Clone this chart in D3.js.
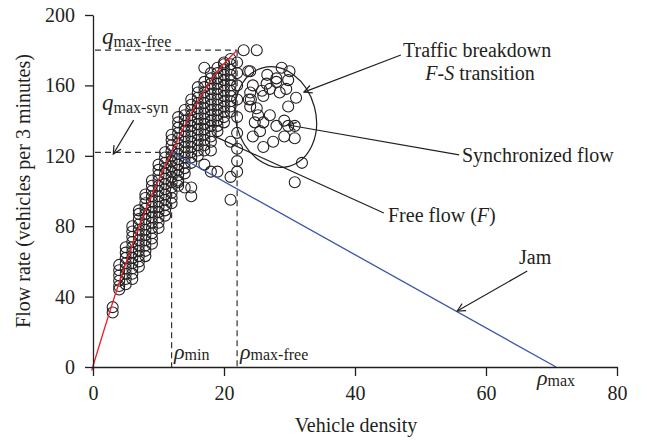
<!DOCTYPE html>
<html>
<head>
<meta charset="utf-8">
<script src="https://cdn.jsdelivr.net/npm/d3@7"></script>
<style>
  body { margin: 0; background: #fff; }
  text { font-family: "Liberation Serif", "DejaVu Serif", serif; fill: #231f20; }
</style>
</head>
<body>
<div id="chart"></div>
<script>
// ---- data ----
const xTicks = [0, 20, 40, 60, 80];
const yTicks = [0, 40, 80, 120, 160, 200];

// free-flow branch: one column of flow values per (integer) density
const bandDensity = [3, 4, 5, 6, 7, 8, 9, 10, 11, 12, 13, 14, 15, 16, 17, 18, 19, 20, 21, 22];
const bandFlows = [
    [31, 34],
    [44, 46, 49, 52, 55, 58],
    [47, 50, 53, 56, 59, 62, 65, 68],
    [50, 53, 56, 59, 62, 65, 68, 71, 74, 77, 80],
    [57, 60, 63, 66, 69, 72, 75, 78, 81, 84, 87, 89],
    [63, 66, 69, 72, 75, 78, 81, 84, 87, 90, 93, 96, 98],
    [70, 73, 76, 79, 82, 85, 88, 91, 94, 97, 100, 103, 106],
    [79, 82, 85, 88, 91, 94, 97, 100, 103, 106, 109, 112, 115],
    [86, 89, 92, 95, 98, 101, 104, 107, 110, 113, 116, 119, 122],
    [93, 96, 99, 102, 105, 108, 111, 114, 117, 120, 123, 126, 129, 132],
    [103, 106, 109, 112, 115, 118, 121, 124, 127, 130, 133, 136, 139, 142],
    [110, 113, 116, 119, 122, 125, 128, 131, 134, 137, 140, 143, 146],
    [116, 119, 122, 125, 128, 131, 134, 137, 140, 143, 146, 149, 152],
    [120, 123, 126, 129, 132, 135, 138, 141, 144, 147, 150, 153, 156, 159],
    [123, 126, 129, 132, 135, 138, 141, 144, 147, 150, 153, 156, 159, 162],
    [128, 131, 134, 137, 140, 143, 146, 149, 152, 155, 158, 161, 164, 167],
    [134, 137, 140, 143, 146, 149, 152, 155, 158, 161, 164, 167, 170],
    [139, 142, 145, 148, 151, 154, 157, 160, 163, 166, 169, 172],
    [145, 148, 151, 154, 157, 160, 163, 166, 169, 172, 175],
    [111, 117, 124, 133, 142, 152, 160, 167, 173]
];

// scattered points off the main band
const strayPoints = [
    [13, 105], [14, 102], [15, 102], [15, 97], [17, 170], [17, 115], [18, 123],
    [18, 111], [19, 111], [20, 173], [21, 95], [21, 108], [21, 128], [23, 180], [25, 180]
];

// synchronized flow cloud
const syncPoints = [
    [24, 168], [28.8, 170], [30, 168], [29.8, 163], [24.4, 160], [26.5, 161], [27, 158],
    [28, 162], [24, 156], [26, 154], [28.5, 156], [31, 153], [24.1, 152], [24, 148],
    [25, 147], [29.8, 148], [27, 143], [24.7, 139], [26, 139], [28, 137], [29.8, 137],
    [30.8, 137], [29.2, 131], [30.8, 130], [25.5, 134], [24.4, 131], [26, 125],
    [31.9, 116], [30.8, 105], [26.6, 166], [28, 164], [23.7, 168], [25.8, 157],
    [29.5, 158], [23.8, 152], [25.2, 143], [27.5, 128], [29.2, 140]
];

// fitted free-flow curve and jam line
const freeCurve = [[-0.2, -2], [4, 48], [8, 89], [12, 122], [16, 151], [19, 168], [22, 180]];
const jamLine = [[12, 122], [70.7, 0]];

const rhoMin = 12, rhoMaxFree = 22, rhoMax = 70.7;
const qMaxFree = 180, qMaxSyn = 122;

// ---- chart ----
const W = 647, H = 441;
const ink = '#231f20';

const svg = d3.select('#chart').append('svg')
    .attr('width', W)
    .attr('height', H);

const x = d3.scaleLinear().domain([0, 80]).range([93, 617]);
const y = d3.scaleLinear().domain([0, 200]).range([367, 15]);

// arrow head
svg.append('defs').append('marker')
    .attr('id', 'arrow')
    .attr('viewBox', '-10 -6 12 12')
    .attr('refX', 0).attr('refY', 0)
    .attr('markerWidth', 12).attr('markerHeight', 12)
    .attr('markerUnits', 'userSpaceOnUse')
    .attr('orient', 'auto')
    .append('path')
    .attr('d', 'M-8,-4 L0,0 L-8,4')
    .attr('fill', 'none')
    .attr('stroke', ink)
    .attr('stroke-width', 1.2);

// points
const allPoints = [];
bandDensity.forEach((rho, i) => bandFlows[i].forEach(q => allPoints.push([rho, q])));
strayPoints.forEach(p => allPoints.push(p));
syncPoints.forEach(p => allPoints.push(p));

svg.append('g')
    .selectAll('circle')
    .data(allPoints)
    .enter().append('circle')
    .attr('cx', d => x(d[0]))
    .attr('cy', d => y(d[1]))
    .attr('r', 5.5)
    .attr('fill', 'none')
    .attr('stroke', ink)
    .attr('stroke-width', 1.1);

// dashed reference lines
const dashed = [
    [[0.3, qMaxFree], [rhoMaxFree, qMaxFree]],
    [[0.3, qMaxSyn], [rhoMin, qMaxSyn]],
    [[rhoMin, qMaxSyn], [rhoMin, 0]],
    [[rhoMaxFree, qMaxFree], [rhoMaxFree, 0]]
];
svg.append('g')
    .selectAll('line')
    .data(dashed)
    .enter().append('line')
    .attr('x1', d => x(d[0][0])).attr('y1', d => y(d[0][1]))
    .attr('x2', d => x(d[1][0])).attr('y2', d => y(d[1][1]))
    .attr('stroke', '#333')
    .attr('stroke-width', 1.2)
    .attr('stroke-dasharray', '6,4');

// red free-flow curve
svg.append('path')
    .datum(freeCurve)
    .attr('d', d3.line().x(d => x(d[0])).y(d => y(d[1])).curve(d3.curveMonotoneX))
    .attr('fill', 'none')
    .attr('stroke', '#e8202a')
    .attr('stroke-width', 1.3);

// blue jam line
svg.append('path')
    .datum(jamLine)
    .attr('d', d3.line().x(d => x(d[0])).y(d => y(d[1])))
    .attr('fill', 'none')
    .attr('stroke', '#3a55a8')
    .attr('stroke-width', 1.3);

// axes
const xAxis = svg.append('g')
    .attr('transform', `translate(0,${y(0)})`)
    .call(d3.axisBottom(x).tickValues(xTicks).tickSize(9).tickSizeOuter(0).tickPadding(10));
const yAxis = svg.append('g')
    .attr('transform', `translate(${x(0)},0)`)
    .call(d3.axisLeft(y).tickValues(yTicks).tickSize(8).tickSizeOuter(0).tickPadding(10));

[xAxis, yAxis].forEach(g => {
    g.select('.domain').attr('stroke', ink).attr('stroke-width', 1.3);
    g.selectAll('.tick line').attr('stroke', ink).attr('stroke-width', 1.3);
    g.selectAll('.tick text')
        .attr('fill', ink)
        .style('font-family', '"Liberation Serif", serif')
        .style('font-size', '20px');
});

// axis titles
svg.append('text')
    .attr('x', 356).attr('y', 432)
    .attr('text-anchor', 'middle')
    .style('font-size', '20px')
    .text('Vehicle density');

svg.append('text')
    .attr('transform', 'translate(30,191) rotate(-90)')
    .attr('text-anchor', 'middle')
    .style('font-size', '20px')
    .text('Flow rate (vehicles per 3 minutes)');

// synchronized-flow ellipse
const ell = [x(27.9), y(142)];
svg.append('ellipse')
    .attr('cx', 0).attr('cy', 0)
    .attr('rx', 40).attr('ry', 51)
    .attr('transform', `translate(${ell[0]},${ell[1]}) rotate(-15)`)
    .attr('fill', 'none')
    .attr('stroke', ink)
    .attr('stroke-width', 1.2);

// annotation lines [from, to, arrow?]
const notes = [
    [[47.0, 177.3], [32.2, 156.2], true],
    [[55.9, 120.5], [29.8, 137.5], true],
    [[44.4, 87.5], [18.5, 131.2], false],
    [[66.3, 54.5], [55.6, 31.8], true],
    [[6.2, 140.3], [3.1, 121.0], true]
];
svg.append('g')
    .selectAll('line')
    .data(notes)
    .enter().append('line')
    .attr('x1', d => x(d[0][0])).attr('y1', d => y(d[0][1]))
    .attr('x2', d => x(d[1][0])).attr('y2', d => y(d[1][1]))
    .attr('stroke', ink)
    .attr('stroke-width', 1.2)
    .attr('marker-end', d => d[2] ? 'url(#arrow)' : null);

// text labels
function label(px, py, parts, size) {
    const t = svg.append('text').attr('x', px).attr('y', py).style('font-size', size + 'px');
    parts.forEach(p => {
        const s = t.append('tspan').text(p.t);
        if (p.i) s.style('font-style', 'italic');
        if (p.s) s.style('font-size', p.s + 'px');
        if (p.dy) s.attr('dy', p.dy);
    });
    return t;
}

label(102, 44, [{t: 'q', i: 1, s: 23}, {t: 'max-free', s: 16, dy: 3}], 20);
label(102, 110, [{t: 'q', i: 1, s: 23}, {t: 'max-syn', s: 16, dy: 3}], 20);
label(174, 359, [{t: 'ρ', i: 1, s: 22}, {t: 'min', s: 16, dy: 1}], 20);
label(240, 359, [{t: 'ρ', i: 1, s: 22}, {t: 'max-free', s: 16, dy: 1}], 20);
label(537, 385, [{t: 'ρ', i: 1, s: 22}, {t: 'max', s: 16, dy: 1}], 20);

label(403, 57, [{t: 'Traffic breakdown'}], 20);
label(480, 80, [{t: 'F', i: 1}, {t: '-'}, {t: 'S', i: 1}, {t: ' transition'}], 20)
    .attr('text-anchor', 'middle');
label(462, 162, [{t: 'Synchronized flow'}], 20);
label(388, 222, [{t: 'Free flow ('}, {t: 'F', i: 1}, {t: ')'}], 20);
label(519, 264, [{t: 'Jam'}], 20);
</script>
</body>
</html>
